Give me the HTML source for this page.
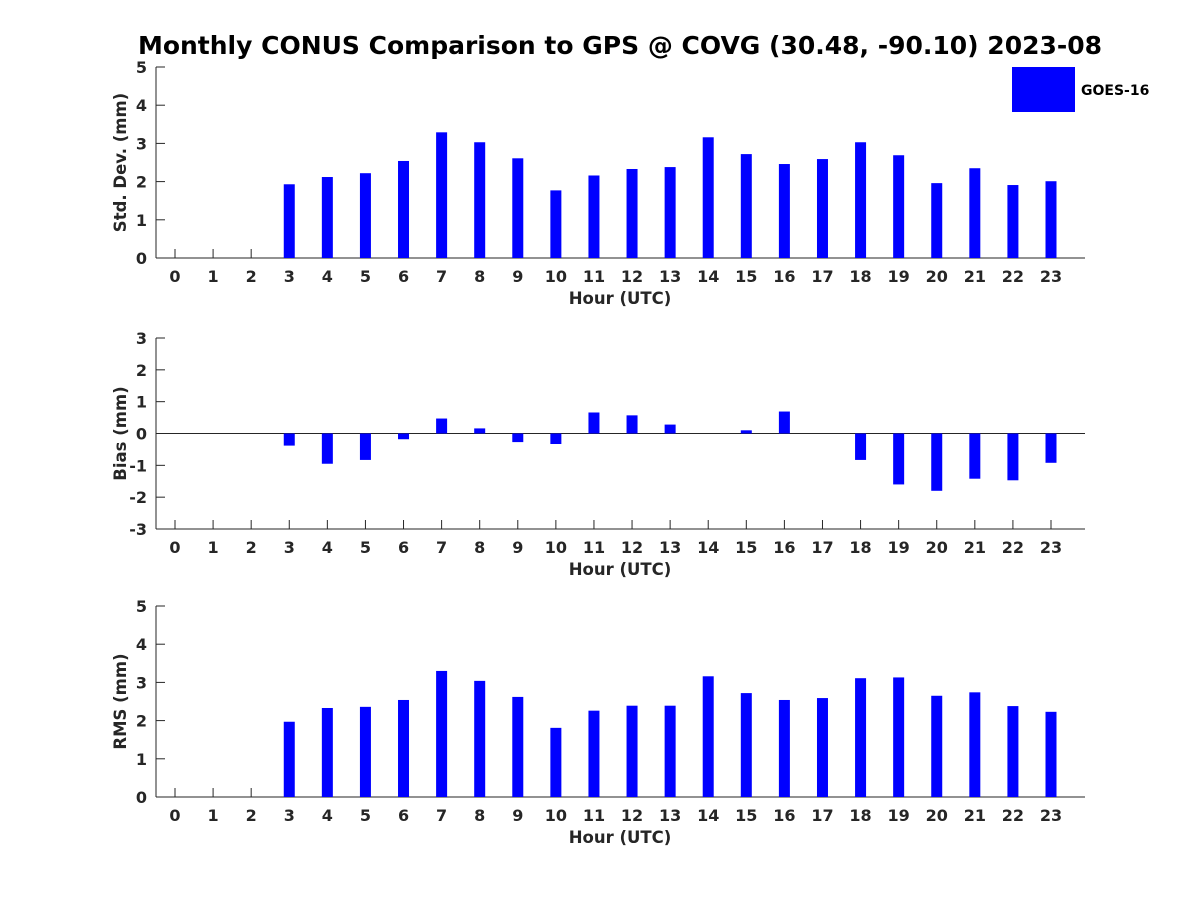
<!DOCTYPE html>
<html><head><meta charset="utf-8"><style>
body{margin:0;background:#fff}
svg text{font-family:"DejaVu Sans","Liberation Sans",sans-serif;font-weight:bold;fill:#262626}
</style></head><body>
<svg id="c" width="1200" height="900" xmlns="http://www.w3.org/2000/svg">
<text x="620" y="54" font-size="25" text-anchor="middle" fill="#000" style="fill:#000">Monthly CONUS Comparison to GPS @ COVG (30.48, -90.10) 2023-08</text>
<rect x="1012" y="67" width="63" height="45" fill="#0000ff"/>
<text x="1081" y="95" font-size="14" style="fill:#000">GOES-16</text>
</svg>
<script>
const hours=[0,1,2,3,4,5,6,7,8,9,10,11,12,13,14,15,16,17,18,19,20,21,22,23];
const stdVals=[null,null,null,1.93,2.12,2.22,2.54,3.29,3.03,2.61,1.77,2.16,2.33,2.38,3.16,2.72,2.46,2.59,3.03,2.69,1.96,2.35,1.91,2.01];
const biasVals=[null,null,null,-0.38,-0.95,-0.83,-0.18,0.47,0.16,-0.27,-0.33,0.66,0.57,0.28,0,0.1,0.69,0,-0.83,-1.6,-1.8,-1.42,-1.47,-0.92];
const rmsVals=[null,null,null,1.97,2.33,2.36,2.54,3.3,3.04,2.62,1.81,2.26,2.39,2.39,3.16,2.72,2.54,2.59,3.11,3.13,2.65,2.74,2.38,2.23];
const stdTicks=[0,1,2,3,4,5];
const biasTicks=[-3,-2,-1,0,1,2,3];
const rmsTicks=[0,1,2,3,4,5];
const svg=document.getElementById('c');
const NS='http://www.w3.org/2000/svg';
function mk(t,a){const e=document.createElementNS(NS,t);for(const k in a)e.setAttribute(k,a[k]);svg.appendChild(e);return e;}
const x=h=>175+h*(1051-175)/23;
function panel(id,top,bot,ymin,ymax,vals,ticks,label){
  const y=v=>bot-(v-ymin)/(ymax-ymin)*(bot-top);
  const base=Math.max(ymin,Math.min(ymax,0));
  let e=mk('line',{x1:156,y1:top,x2:156,y2:bot,stroke:'#262626','stroke-width':1});
  
  
  e=mk('line',{x1:156,y1:bot,x2:1085,y2:bot,stroke:'#262626','stroke-width':1});
  
  
  if(ymin<0){e=mk('line',{x1:156,y1:y(0),x2:1085,y2:y(0),stroke:'#262626','stroke-width':1});
    
    }
  ticks.forEach(t=>{
    mk('line',{x1:156,y1:y(t),x2:165,y2:y(t),stroke:'#262626'});
    e=mk('text',{x:147,y:y(t)+6,'font-size':16,'text-anchor':'end'});e.textContent=t;
    
    
  });
  hours.forEach((h,i)=>{
    mk('line',{x1:x(h),y1:bot,x2:x(h),y2:bot-9,stroke:'#262626'});
    e=mk('text',{x:x(h),y:bot+24,'font-size':16,'text-anchor':'middle'});e.textContent=h;
    
    
    const v=vals[i];
    if(v!==null&&v!==0){
      const y1=Math.min(y(v),y(base)),y2=Math.max(y(v),y(base));
      e=mk('rect',{x:x(h)-5.5,y:y1,width:11,height:y2-y1,fill:'#0000ff'});
      
      
    }
  });
  e=mk('text',{x:620,y:bot+46,'font-size':16.5,'text-anchor':'middle'});e.textContent='Hour (UTC)';
  
  
  const cy=(top+bot)/2;
  e=mk('text',{x:126,y:cy,'font-size':16.5,'text-anchor':'middle',transform:`rotate(-90 126 ${cy})`});e.textContent=label;
  
  
}
panel('std',67,258,0,5,stdVals,stdTicks,'Std. Dev. (mm)');
panel('bias',338,529,-3,3,biasVals,biasTicks,'Bias (mm)');
panel('rms',606,797,0,5,rmsVals,rmsTicks,'RMS (mm)');
</script>
</body></html>
